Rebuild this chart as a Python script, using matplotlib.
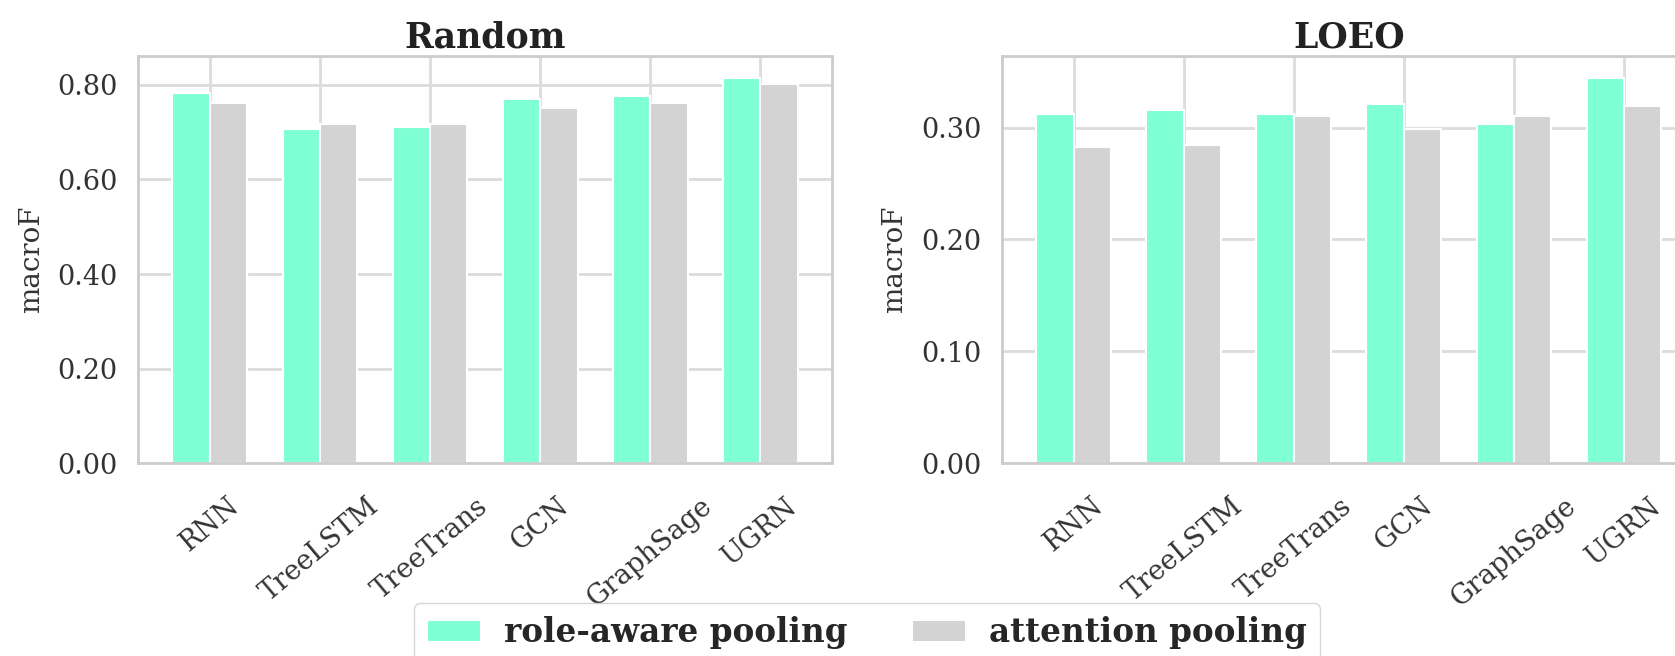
import matplotlib
matplotlib.use('Agg')
import matplotlib.pyplot as plt
import seaborn as sns
import numpy as np

sns.set_style('whitegrid')
plt.rcParams['font.family'] = ['DejaVu Serif']

models = ['RNN', 'TreeLSTM', 'TreeTrans', 'GCN', 'GraphSage', 'UGRN']
series = ['role-aware pooling', 'attention pooling']
colors = ['#7fffd4', '#d3d3d3']

# Random split
random_role = [0.782, 0.707, 0.711, 0.769, 0.777, 0.815]
random_attn = [0.761, 0.718, 0.718, 0.751, 0.761, 0.801]
# leave-one-event-out split
loeo_role = [0.312, 0.316, 0.312, 0.321, 0.303, 0.344]
loeo_attn = [0.283, 0.284, 0.310, 0.299, 0.310, 0.319]

fig = plt.figure(figsize=(16.75, 6.56), dpi=100)
ax1 = fig.add_axes([0.0826, 0.2938, 0.414, 0.6209])
ax2 = fig.add_axes([0.5983, 0.2938, 0.414, 0.6209])

w = 0.34
x = np.arange(len(models))

def draw(ax, role, attn, title, ymax, ticks):
    ax.bar(x - w/2, role, width=w, color=colors[0], edgecolor='white', linewidth=1.5, label=series[0])
    ax.bar(x + w/2, attn, width=w, color=colors[1], edgecolor='white', linewidth=1.5, label=series[1])
    ax.set_xlim(-0.65, 5.65)
    ax.set_ylim(0, ymax)
    ax.set_yticks(ticks)
    ax.set_yticklabels(['%.2f' % t for t in ticks])
    ax.set_xticks(x)
    ax.set_xticklabels(models, rotation=40, ha='center')
    ax.tick_params(axis='both', length=0, labelsize=19.5, colors='#333333')
    ax.tick_params(axis='y', pad=15)
    ax.tick_params(axis='x', pad=21)
    ax.set_ylabel('macroF', fontsize=20, color='#333333', labelpad=9)
    ax.set_title(title, fontsize=25, fontweight='bold', color='#222222', pad=6)
    ax.grid(True, color='#dcdcdc', linewidth=2)
    ax.set_axisbelow(True)
    for s in ax.spines.values():
        s.set_color('#cccccc')
        s.set_linewidth(2)

draw(ax1, random_role, random_attn, 'Random', 0.861, [0, 0.2, 0.4, 0.6, 0.8])
draw(ax2, loeo_role, loeo_attn, 'LOEO', 0.364, [0, 0.1, 0.2, 0.3])

h, l = ax1.get_legend_handles_labels()
fig.legend(h, l, loc='upper center', bbox_to_anchor=(0.5176, 0.0803), ncol=2,
           prop={'size': 23.5, 'weight': 'bold'}, frameon=True, edgecolor='#cccccc',
           handlelength=1.65, handletextpad=0.7, borderaxespad=0)

fig.savefig('out.png', dpi=100)
